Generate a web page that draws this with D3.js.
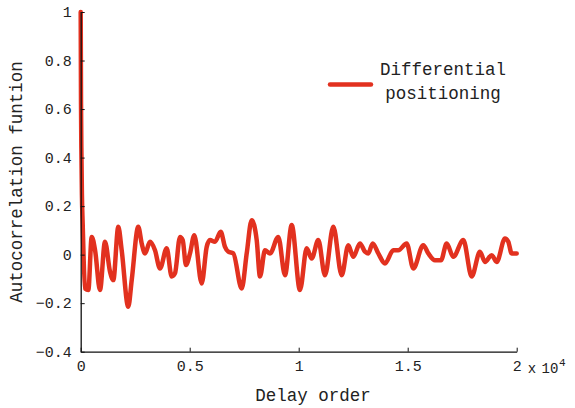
<!DOCTYPE html>
<html>
<head>
<meta charset="utf-8">
<script src="https://d3js.org/d3.v7.min.js"></script>
<style>
  body {margin: 0; background: #fff;}
  text {font-family: "Liberation Mono", monospace; fill: #222;}
</style>
</head>
<body>
<svg id="chart" width="575" height="408"></svg>
<script>
// delay order (lag) and autocorrelation
var lags = [0, 15, 30, 55, 90, 200, 350, 505, 660, 885, 1115, 1344, 1495, 1725, 1880,
  2183, 2340, 2642, 2798, 2950, 3180, 3408, 3637, 3945, 4174, 4325, 4555, 4680, 4830,
  5013, 5211, 5550, 5780, 5931, 6160, 6422, 6619, 6770, 7000, 7385, 7615, 7844, 8073,
  8225, 8454, 8683, 9064, 9371, 9679, 10059, 10367, 10596, 10899, 11206, 11587, 11972,
  12275, 12504, 12811, 13041, 13192, 13394, 13651, 13958, 14339, 14568, 14954, 15256,
  15715, 15945, 16252, 16527, 16789, 17091, 17550, 17935, 18316, 18545, 18853, 19082,
  19463, 19614, 19770, 20000];
var acf = [1.0, 0.62, 0.44, 0.25, 0.13, -0.14, -0.146, 0.073, 0.018, -0.146, 0.053, -0.07,
  -0.105, 0.115, 0.018, -0.215, -0.105, 0.115, 0.046, 0.005, 0.053, 0.018, -0.057, 0.026,
  -0.09, -0.077, 0.073, 0.06, -0.043, 0.005, 0.08, -0.119, 0.032, 0.06, 0.053, 0.094,
  0.032, 0.012, 0.005, -0.14, 0.005, 0.142, 0.06, -0.09, 0.018, 0.005, 0.073, -0.085,
  0.122, -0.146, 0.026, -0.016, 0.06, -0.085, 0.115, -0.085, 0.039, -0.009, 0.046, 0.012,
  0.005, 0.046, 0.005, -0.036, 0.018, 0.018, 0.046, -0.057, 0.039, 0.005, -0.023, -0.023,
  0.046, -0.009, 0.06, -0.09, 0.012, -0.03, -0.002, -0.03, 0.067, 0.053, 0.005, 0.005];
var xTicks = [0, 5000, 10000, 15000, 20000];
var xTickLabels = ["0", "0.5", "1", "1.5", "2"];
var yTicks = [-0.4, -0.2, 0, 0.2, 0.4, 0.6, 0.8, 1];
var seriesName = ["Differential", "positioning"];

var svg = d3.select("#chart");
var x = d3.scaleLinear().domain([0, 20000]).range([80.7, 516.7]);
var y = d3.scaleLinear().domain([-0.4, 1]).range([351.7, 12]);
var red = "#e2311f";

var pts = lags.map(function(d, i) { return [d, acf[i]]; });
var line = d3.line()
  .x(function(d) { return x(d[0]); })
  .y(function(d) { return y(d[1]); })
  .curve(d3.curveMonotoneX);

svg.append("path").datum(pts)
  .attr("d", line)
  .attr("fill", "none")
  .attr("stroke", red)
  .attr("stroke-width", 4.5)
  .attr("stroke-linejoin", "round")
  .attr("stroke-linecap", "round");

// axes: inward ticks, no box
var xAxis = d3.axisBottom(x).tickValues(xTicks).tickSizeInner(-4).tickSizeOuter(0)
  .tickFormat(function(d, i) { return xTickLabels[i]; }).tickPadding(9);
var gx = svg.append("g").attr("transform", "translate(0," + y(-0.4) + ")").call(xAxis);
var yAxis = d3.axisLeft(y).tickValues(yTicks).tickSizeInner(-4).tickSizeOuter(0)
  .tickFormat(function(d) { return d === 0 ? "0" : d3.format("")(d).replace("-", "\u2212"); })
  .tickPadding(9);
var gy = svg.append("g").attr("transform", "translate(" + x(0) + ",0)").call(yAxis);

[gx, gy].forEach(function(g) {
  g.selectAll(".domain").attr("stroke", "#111").attr("stroke-width", 1.3);
  g.selectAll(".tick line").attr("stroke", "#111");
  g.selectAll("text").style("font-family", "Liberation Mono, monospace")
    .style("font-size", "15px").attr("fill", "#222");
});

// exponent label
svg.append("text").attr("x", 532).attr("y", 373).attr("text-anchor", "middle")
  .style("font-size", "14px").text("x");
svg.append("text").attr("x", 550).attr("y", 373).attr("text-anchor", "middle")
  .style("font-size", "14px").text("10");
svg.append("text").attr("x", 559).attr("y", 366)
  .style("font-size", "11px").text("4");

// axis titles
svg.append("text").attr("x", 313).attr("y", 401).attr("text-anchor", "middle")
  .style("font-size", "17.5px").text("Delay order");
svg.append("text").attr("transform", "translate(22,182) rotate(-90)")
  .attr("text-anchor", "middle").style("font-size", "17.5px")
  .text("Autocorrelation funtion");

// legend
svg.append("line").attr("x1", 330).attr("x2", 371).attr("y1", 84.5).attr("y2", 84.5)
  .attr("stroke", red).attr("stroke-width", 4.5).attr("stroke-linecap", "round");
svg.selectAll(".leg").data(seriesName).enter().append("text")
  .attr("class", "leg")
  .attr("x", 443).attr("y", function(d, i) { return 75 + i * 24; })
  .attr("text-anchor", "middle").style("font-size", "17.5px")
  .text(function(d) { return d; });
</script>
</body>
</html>
